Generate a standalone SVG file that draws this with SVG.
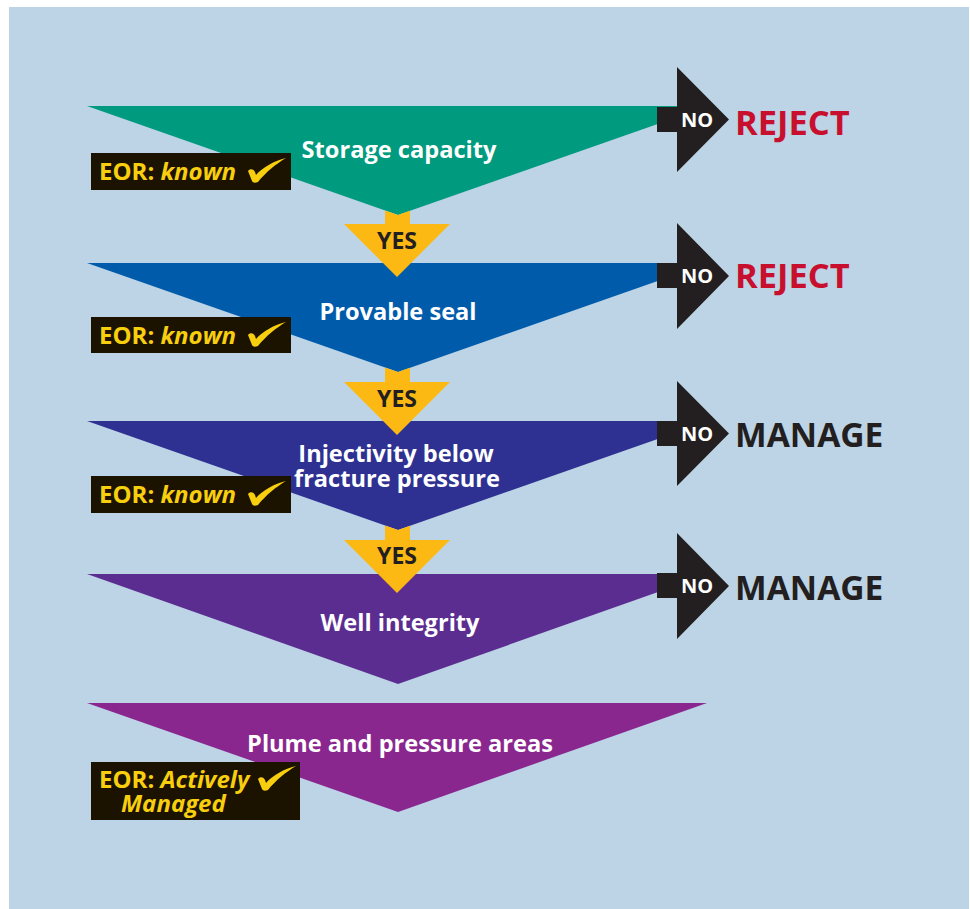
<svg xmlns="http://www.w3.org/2000/svg" xmlns:xlink="http://www.w3.org/1999/xlink" width="970" height="909" viewBox="0 0 970 909">
<style>
.title{font-family:"Open Sans","Liberation Sans",sans-serif;font-weight:700;font-size:23.6px;fill:#ffffff;text-anchor:middle}
.eorbox{fill:#1c1200}
.eor{font-family:"Open Sans","Liberation Sans",sans-serif;font-weight:700;font-size:24px;fill:#f7cf0e}
.it{font-style:italic}
.chk{fill:#f7cf0e}
.no{font-family:"Open Sans","Liberation Sans",sans-serif;font-weight:700;font-size:20px;fill:#ffffff;text-anchor:middle}
.noarrow{fill:#231f20}
.yesarrow{fill:#fdb913}
.yes{font-family:"Open Sans","Liberation Sans",sans-serif;font-weight:700;font-size:23px;fill:#231f20;text-anchor:middle}
.out{font-family:"Open Sans","Liberation Sans",sans-serif;font-weight:700;font-size:34.5px}
.mg{font-size:33.6px}
</style>
<defs>
<path id="chk" d="M0,13 C2,10 6,11 7,14 L8,17 C15,9 26,3 38,0 C28,6 18,14 10,24 C7,25 5,25 4,23 Z"/>
</defs>
<rect x="9" y="7" width="960" height="902" fill="#bcd4e6"/>

<g id="node-storage">
<polygon points="87,106 709,106 398,215" fill="#009a7e"/>
<text class="title" x="399" y="158">Storage capacity</text>
<rect class="eorbox" x="91" y="153" width="200" height="37"/>
<text class="eor" x="99" y="180">EOR: <tspan class="it">known</tspan></text>
<use href="#chk" class="chk" x="248" y="158"/>
</g>

<g id="node-seal">
<polygon points="87,263 709,263 398,372" fill="#005bab"/>
<text class="title" x="398" y="320">Provable seal</text>
<rect class="eorbox" x="91" y="317" width="200" height="36"/>
<text class="eor" x="99" y="344">EOR: <tspan class="it">known</tspan></text>
<use href="#chk" class="chk" x="248" y="322"/>
</g>

<g id="node-injectivity">
<polygon points="87,421 709,421 398,530" fill="#2e3192"/>
<text class="title"><tspan x="396" y="462">Injectivity below</tspan><tspan x="397" y="487">fracture pressure</tspan></text>
<rect class="eorbox" x="91" y="476" width="200" height="37"/>
<text class="eor" x="99" y="503">EOR: <tspan class="it">known</tspan></text>
<use href="#chk" class="chk" x="248" y="481"/>
</g>

<g id="node-well">
<polygon points="87,574 709,574 398,684" fill="#5c2d91"/>
<text class="title" x="400" y="631">Well integrity</text>
</g>

<g id="node-plume">
<polygon points="87,703 707,703 398,812" fill="#8a278f"/>
<text class="title" x="400" y="752">Plume and pressure areas</text>
<rect class="eorbox" x="91" y="762" width="209" height="58"/>
<text class="eor"><tspan x="99" y="788">EOR: <tspan class="it">Actively</tspan></tspan><tspan class="it" x="121" y="812">Managed</tspan></text>
<use href="#chk" class="chk" x="258" y="766"/>
</g>

<g id="out-reject-1"><text class="out" x="735" y="135" fill="#c8102e">REJECT</text></g>
<g id="out-reject-2"><text class="out" x="735" y="288" fill="#c8102e">REJECT</text></g>
<g id="out-manage-1"><text class="out mg" x="735" y="447" fill="#231f20">MANAGE</text></g>
<g id="out-manage-2"><text class="out mg" x="735" y="600" fill="#231f20">MANAGE</text></g>

<g id="connectors">
<polygon class="yesarrow" points="385,210.4 398,215 410,210.8 410,224 450,224 397,277 344,224 385,224"/>
<text class="yes" x="397" y="249">YES</text>
<polygon class="yesarrow" points="385,367.4 398,372 410,367.8 410,382 450,382 397,435 344,382 385,382"/>
<text class="yes" x="397" y="407">YES</text>
<polygon class="yesarrow" points="385,525.4 398,530 410,525.8 410,540 450,540 397,593 344,540 385,540"/>
<text class="yes" x="397" y="564">YES</text>

<polygon class="noarrow" points="657,107 677,107 677,67 729,119.5 677,172 677,132 657,132"/>
<text class="no" x="697" y="127">NO</text>
<polygon class="noarrow" points="657,263 677,263 677,223 729,276 677,329 677,288 657,288"/>
<text class="no" x="697" y="283">NO</text>
<polygon class="noarrow" points="657,421 677,421 677,381 729,433.5 677,486 677,446 657,446"/>
<text class="no" x="697" y="441">NO</text>
<polygon class="noarrow" points="657,573 677,573 677,533 729,586 677,639 677,598 657,598"/>
<text class="no" x="697" y="593">NO</text>
</g>
</svg>
